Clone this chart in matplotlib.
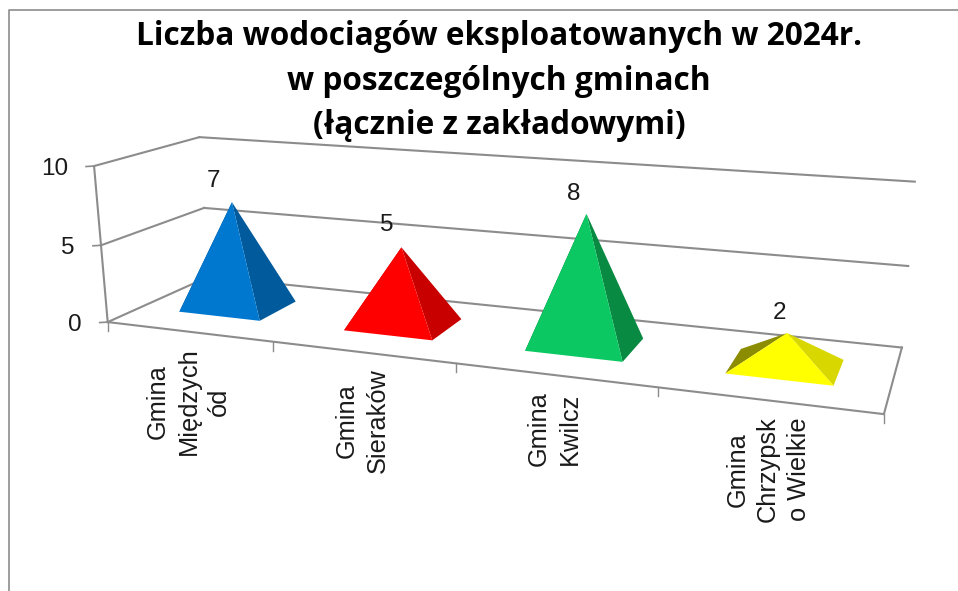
import numpy as np
import matplotlib
matplotlib.use('Agg')
import matplotlib.pyplot as plt

#=========================================================================================
#Input:

gminy = ['Gmina\nMiędzych\nód', 'Gmina\nSieraków', 'Gmina\nKwilcz', 'Gmina\nChrzypsk\no Wielkie']
wodociagi = [7, 5, 8, 2]
y_ticks = [0, 5, 10]
title = 'Liczba wodociagów eksploatowanych w 2024r.\nw poszczególnych gminach\n(łącznie z zakładowymi)'

front_cols = ['#0078D0', '#FF0000', '#0BC862', '#FFFF00']
right_cols = ['#005A9C', '#C80000', '#088A42', '#D8D800']
left_cols = ['#004A80', '#A00000', '#066A32', '#8C8C00']
label_off = [(-18, 21), (-15, 22), (-13, 20), (-8, 20)]

#=========================================================================================
#camera: fit a 3x4 projection to the frame of the chart (category, depth, value) -> pixel

frame_3d = np.array([[0, 0, 0], [4, 0, 0], [0, 1, 0], [4, 1, 0], [0, 0, 10], [0, 1, 10], [4, 1, 10],
                     [0, 0, 5], [0, 1, 5], [4, 1, 5], [1, 0, 0], [2, 0, 0], [3, 0, 0]], dtype=float)
frame_px = np.array([[107, 322], [884, 414], [209, 277], [902, 347], [94, 166], [199, 137], [915, 182],
                     [102, 245], [204, 208], [908, 266], [273, 342], [456, 363], [658, 388]], dtype=float)

A = []
b = []
for (u, d, v), (px, py) in zip(frame_3d, frame_px):
    A.append([u, d, v, 1, 0, 0, 0, 0, -px * u, -px * d, -px * v])
    b.append(px)
    A.append([0, 0, 0, 0, u, d, v, 1, -py * u, -py * d, -py * v])
    b.append(py)
P = np.linalg.lstsq(np.array(A), np.array(b), rcond=None)[0]
P = np.append(P, 1).reshape(3, 4)


def proj(u, d, v):
    x = P @ np.array([u, d, v, 1.0])
    return x[0] / x[2], x[1] / x[2]


fig = plt.figure(figsize=(9.58, 5.91), dpi=100)
ax = fig.add_axes([0, 0, 1, 1])
ax.set_xlim(0, 958)
ax.set_ylim(591, 0)
ax.axis('off')

grey = '#8C8C8C'


def line3d(p1, p2, lw=1.5):
    a = proj(*p1)
    c = proj(*p2)
    ax.plot([a[0], c[0]], [a[1], c[1]], color=grey, lw=lw, solid_capstyle='projecting', zorder=2)


#picture border
ax.plot([9, 9, 958], [591, 10, 10], color='#8C8C8C', lw=1.2)

#walls and floor
for v in y_ticks:
    line3d((0, 0, v), (0, 1, v))
    line3d((0, 1, v), (4, 1, v))
    a = proj(0, 0, v)
    ax.plot([a[0] - 8, a[0]], [a[1] + 0.5, a[1]], color=grey, lw=1.2)
    ax.annotate(str(v), xy=a, xytext=(-26, -3), textcoords='offset pixels', ha='right', va='center',
                fontsize=17.5, family='Liberation Sans', color='#1a1a1a')
line3d((0, 0, 0), (0, 0, 10))
line3d((0, 0, 0), (4, 0, 0))
line3d((4, 0, 0), (4, 1, 0))
for i in range(len(gminy) + 1):
    a = proj(i, 0, 0)
    ax.plot([a[0], a[0]], [a[1], a[1] + 9], color=grey, lw=1.0)

#pyramids
half_w = 0.25
d0 = 0.3
d1 = 0.7
for i, val in enumerate(wodociagi):
    c = i + 0.5
    fl = proj(c - half_w, d0, 0)
    fr = proj(c + half_w, d0, 0)
    br = proj(c + half_w, d1, 0)
    bl = proj(c - half_w, d1, 0)
    top = proj(c, 0.5, val)
    ax.fill(*zip(bl, fl, top), color=left_cols[i], lw=0, zorder=3)
    ax.fill(*zip(br, fr, top), color=right_cols[i], lw=0, zorder=3)
    ax.fill(*zip(fl, fr, top), color=front_cols[i], lw=0, zorder=3)
    ax.annotate(str(val), xy=top, xytext=(label_off[i][0], label_off[i][1]), textcoords='offset pixels',
                ha='center', va='center', fontsize=17.5, family='Liberation Sans', color='#1a1a1a',
                annotation_clip=False, zorder=4)

#category labels
for i, name in enumerate(gminy):
    a = proj(i + 0.5, 0, 0)
    ax.annotate(name, xy=a, xytext=(0, -16), textcoords='offset pixels', rotation=90, ha='center', va='top',
                multialignment='center', fontsize=18.3, family='Liberation Sans', color='#1a1a1a', linespacing=1.35)

ax.text(499, 81, title, ha='center', va='center', fontsize=22.75, fontweight='bold', family='Open Sans',
        color='black', linespacing=1.47)

fig.savefig('out.png', dpi=100)
